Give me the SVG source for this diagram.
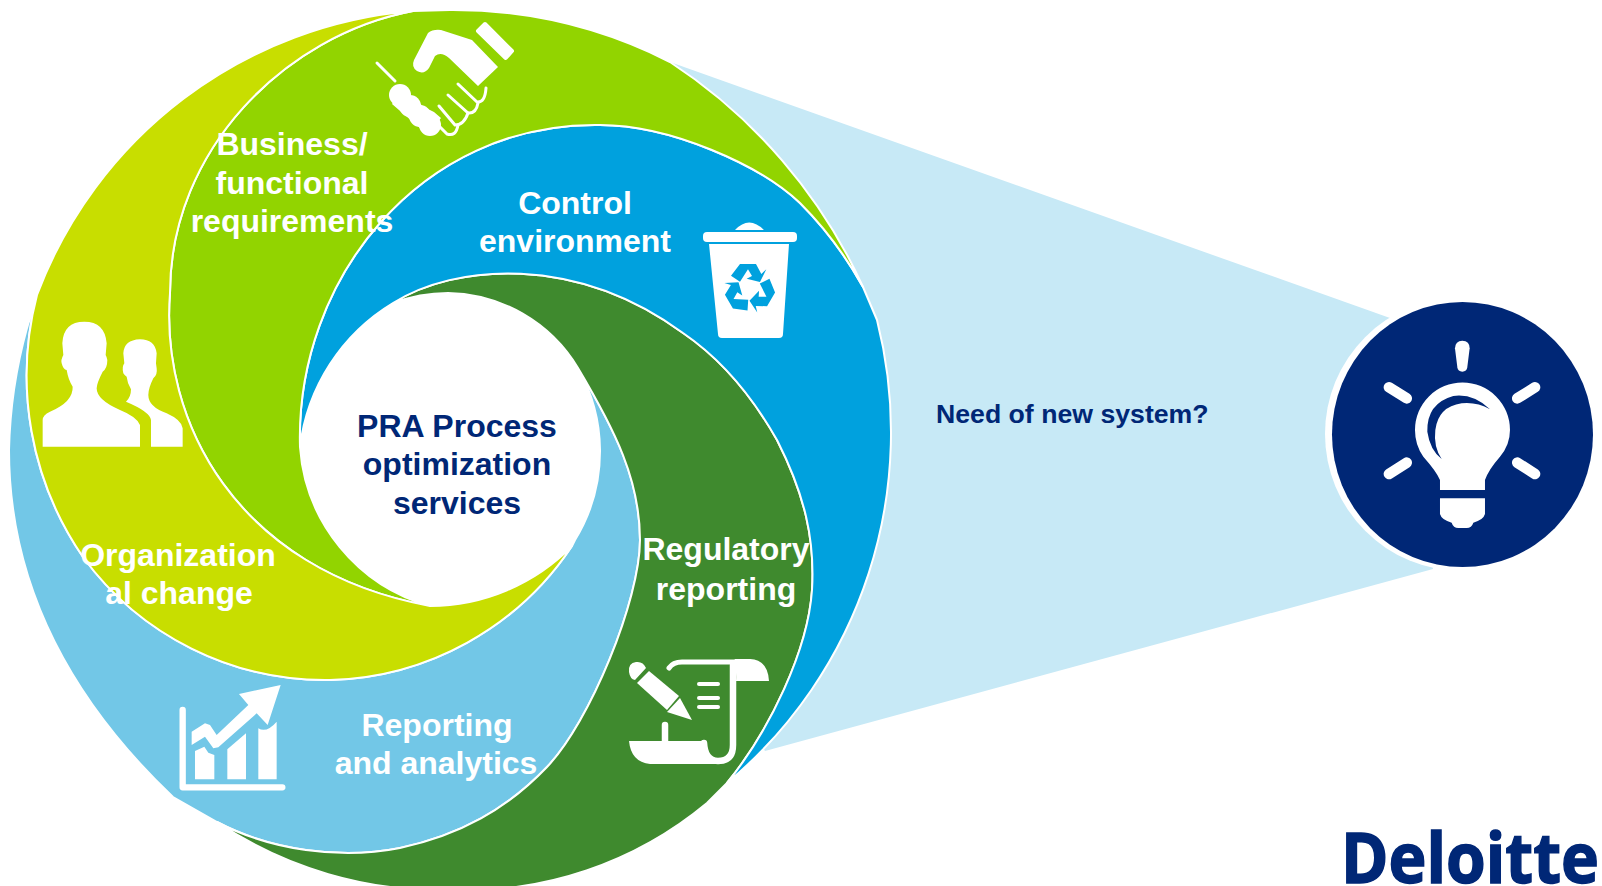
<svg xmlns="http://www.w3.org/2000/svg" width="1602" height="886" viewBox="0 0 1602 886">
<style>
.arm{stroke:#fff;stroke-width:2;stroke-linejoin:round}
.lbl{font-family:"Liberation Sans",Arial,sans-serif;font-weight:700;font-size:32px;text-anchor:middle;fill:#fff}
.navy{fill:#002776}
.ic{fill:#fff}
.ln{fill:none;stroke:#fff;stroke-linecap:round;stroke-linejoin:round}
</style>
<defs><path id="rc" fill="#00A1DE" d="M123,197 150,162 198,162 214,192 229,178 210,216 170,206 186,198 174,178 150,215Z"/></defs>
<rect width="1602" height="886" fill="#fff"/>
<g id="cone"><polygon points="670,62 1390,318 1433,569 765,751 600,500" fill="#C7E9F6"/></g>
<g id="arm-reporting"><path class="arm" fill="#72C7E7" d="M27,328A500 500 0 0 0 9,450C9,560 50,680 173,797L217,822C270,850 340,860 400,848C460,835 507,809 547,767C590,722 640,600 640,540C640,480 615,430 578,368A170 170 0 0 1 600,450A170 170 0 0 1 575,540L572,546A300 300 0 0 1 330,680A300 300 0 0 1 83,557A320 320 0 0 1 37,295Z"/></g>
<g id="arm-regulatory"><path class="arm" fill="#3F8A2E" d="M393,303C455,264 575,254 683,333C730,365 760,410 777,440C805,495 815,540 812,590C808,650 770,730 727,783L707,803A377 377 0 0 1 450,890A400 400 0 0 1 217,822C270,850 340,860 400,848C460,835 507,809 547,767C590,722 640,600 640,540C640,480 615,430 578,368A155 155 0 0 0 448,293A160 160 0 0 0 393,303Z"/></g>
<g id="arm-control"><path class="arm" fill="#00A1DE" d="M300,447C295,280 420,122 600,125C670,125 760,165 800,203C825,228 848,260 863,287L877,320A457 457 0 0 1 727,783C770,730 808,650 812,590C815,540 805,495 777,440C760,410 730,365 683,333C575,254 455,264 393,303A195 195 0 0 0 300,447Z"/></g>
<g id="arm-business"><path class="arm" fill="#92D400" d="M413,11L450,10A480 480 0 0 1 670,62A532 532 0 0 1 863,287C848,260 825,228 800,203C760,165 670,125 600,125C420,122 295,280 300,447A178 178 0 0 0 430,606C235,570 160,420 170,293C170,150 285,35 413,11Z"/></g>
<g id="arm-organization"><path class="arm" fill="#C8DE00" d="M413,11A440 440 0 0 0 37,295A320 320 0 0 0 83,557A300 300 0 0 0 330,680A300 300 0 0 0 572,546A200 200 0 0 1 430,606C235,570 160,420 170,293C170,150 285,35 413,11Z"/></g>
<g id="icon-handshake">
<path class="ic" stroke="#fff" stroke-width="4" stroke-linejoin="round" d="M485,24 512,51 505.700,58 478,31Z"/>
<path class="ic" d="M428,33Q433,29 441,30L472,40L498,67L478,86L449,58Q441,51 435,56L429,68Q424,75 417,71Q411,67 414,60Z"/>
<g class="ic"><circle cx="400" cy="95" r="11"/><circle cx="410" cy="106" r="11"/><circle cx="420" cy="116" r="11"/><circle cx="430" cy="125" r="11"/><polygon points="403,88 413,98 424,107 434,112 441,118 428,135 392,104"/></g>
<g class="ln" stroke-width="3"><path d="M377,63L395,81"/><path d="M458,84L477,102Q485,103 486,88"/><path d="M448,95L468,113Q476,114 478,103"/><path d="M439,106L455,125Q464,125 468,113"/><path d="M440,127L447,134Q456,137 458,125"/></g>
</g>
<g id="icon-trash">
<path class="ic" d="M735,230Q749,215 764,230Z"/>
<rect class="ic" x="703" y="232" width="94" height="10" rx="4"/>
<path class="ic" d="M709,244H789L783,334Q783,338 779,338H722Q718,338 718,334Z"/>
<g transform="translate(690 210) scale(.3333)"><use href="#rc"/><use href="#rc" transform="rotate(120 178 235)"/><use href="#rc" transform="rotate(240 178 235)"/></g>
</g>
<g id="icon-scroll">
<path class="ic" d="M629,672Q628,663 636,662Q643,661 646,668L635,680Q630,679 629,672Z"/>
<polygon class="ic" points="637,683 649,671 679,696 667,710"/>
<polygon class="ic" points="667,712 680,698 692,720"/>
<path class="ln" stroke-width="5" d="M669,668Q673,662 682,662L750,662"/>
<path class="ic" d="M735,659L750,659Q768,660 769,681L736,681Q737,668 732,664Z"/>
<path class="ln" stroke-width="6.500" d="M733,665L733,745Q733,761 718,761Q705,761 704,743"/>
<path class="ic" d="M629,741L702,741Q703,760 718,764L650,764Q631,762 629,741Z"/>
<path class="ln" stroke-width="6.500" d="M665,725L665,742"/>
<g class="ln" stroke-width="4"><path d="M699,684H718"/><path d="M699,698H718"/><path d="M699,707H718"/></g>
</g>
<g id="icon-chart" transform="translate(165 670) scale(.3333)">
<path class="ln" stroke-width="19" d="M53,120V352H352"/>
<path class="ic" d="M90,328V243L118,230L130,248L148,255V328Z"/>
<polygon class="ic" points="187,328 187,238 243,190 243,328"/>
<path class="ic" d="M280,328V175Q305,190 335,155V328Z"/>
<polygon class="ic" points="222,72 347,45 308,165 275,130 160,232 145,235 120,200 80,225 80,185 120,160 135,165 155,195 250,105"/>
</g>
<g id="icon-people" transform="translate(30 310) scale(.3333)">
<path class="ic" d="M38,410H330V345Q320,320 270,300Q200,270 200,235Q200,220 218,185Q232,175 232,150Q230,140 227,135L230,100Q225,35 163,35Q100,35 97,100L100,135Q92,150 95,160Q100,180 110,180Q115,210 128,230Q130,275 60,305Q38,315 38,330Z"/>
<path class="ic" d="M363,410H458V355Q455,330 410,310Q355,290 355,255Q355,235 370,205Q383,195 380,175L378,160L380,130Q375,88 330,88Q282,90 280,130L283,160Q275,170 280,190Q285,198 290,200Q292,220 303,238Q303,262 288,275Q360,305 363,330Z"/>
</g>
<g id="label-business"><text class="lbl" x="292" y="155">Business/</text><text class="lbl" x="292" y="194">functional</text><text class="lbl" x="292" y="232">requirements</text></g>
<g id="label-control"><text class="lbl" x="575" y="214">Control</text><text class="lbl" x="575" y="252">environment</text></g>
<g id="label-regulatory"><text class="lbl" x="726" y="560">Regulatory</text><text class="lbl" x="726" y="600">reporting</text></g>
<g id="label-reporting"><text class="lbl" x="437" y="736">Reporting</text><text class="lbl" x="436" y="774">and analytics</text></g>
<g id="label-organization"><text class="lbl" x="178" y="566">Organization</text><text class="lbl" x="179" y="604">al change</text></g>
<g id="center"><text class="lbl navy" x="457" y="437">PRA Process</text><text class="lbl navy" x="457" y="475">optimization</text><text class="lbl navy" x="457" y="514">services</text></g>
<g id="question"><text x="936" y="423" font-family="'Liberation Sans',Arial,sans-serif" font-weight="700" font-size="26.670" fill="#002776">Need of new system?</text></g>
<g id="bulb">
<circle cx="1462" cy="434" r="137" fill="#fff"/>
<ellipse cx="1462.500" cy="434.500" rx="130.500" ry="132.500" fill="#002776"/>
<g transform="translate(1310 290) scale(.3333)">
<path fill="none" stroke="#fff" stroke-width="32" stroke-linecap="round" d="M237,292L290,325M675,292L622,325M237,552L290,518M675,552L622,518"/>
<path fill="#fff" d="M435,175Q436,152 457,152Q479,152 479,175L472,232Q470,245 457,245Q444,245 442,232Z"/>
<path fill="#fff" d="M390,600L390,570Q380,545 340,500Q315,465 315,420A142 142 0 0 1 600,420Q600,465 570,500Q535,540 525,570L525,600Z"/>
<path fill="#002776" d="M540,358Q490,310 430,318Q350,340 352,425Q360,480 395,507Q370,470 376,420Q385,350 455,340Q500,335 540,358Z"/>
<path fill="#fff" d="M390,625L525,625L525,672Q520,690 490,698Q485,714 470,714L445,714Q430,714 425,698Q395,690 390,672Z"/>
</g>
</g>
<g id="logo"><text x="1341" y="883" font-family="'Open Sans','Noto Sans',sans-serif" font-weight="700" font-size="70" fill="#002776" stroke="#002776" stroke-width="1.500" textLength="258" lengthAdjust="spacingAndGlyphs">Deloitte</text></g>
</svg>
